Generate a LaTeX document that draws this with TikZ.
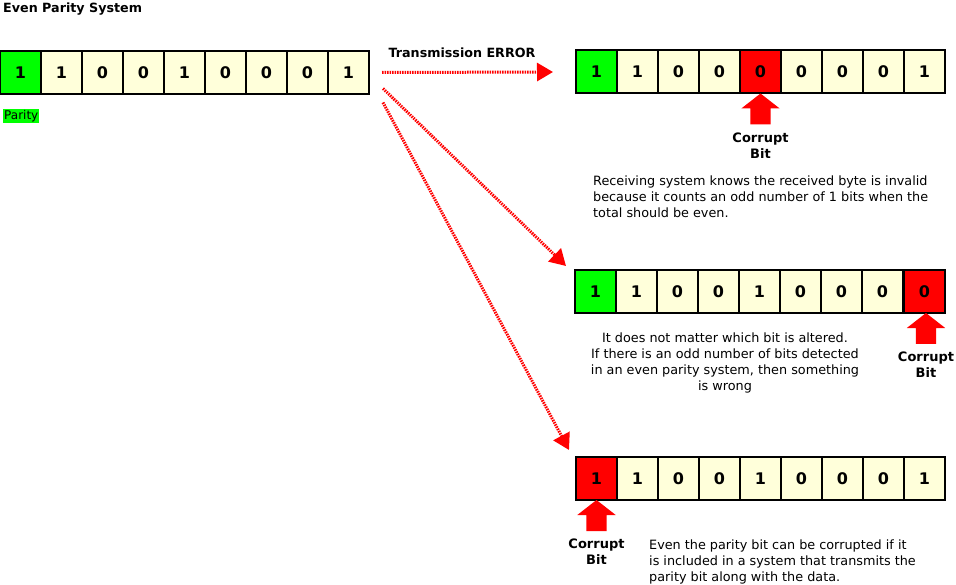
\documentclass[tikz,border=0pt]{standalone}
\usepackage{fontspec}
\setmainfont{DejaVu Sans}
\usetikzlibrary{arrows.meta, positioning, shapes.arrows}
\definecolor{bitcream}{HTML}{FFFFDA}
\definecolor{bitgreen}{HTML}{00FF00}
\definecolor{bitred}{HTML}{FF0000}
\tikzset{
  bit/.style={rectangle, draw=black, line width=2pt, fill=bitcream, minimum width=41pt,
    minimum height=43pt, inner sep=0pt, outer sep=0pt, font=\fontsize{16}{18}\selectfont\bfseries},
  parbit/.style={bit, fill=bitgreen},
  badbit/.style={bit, fill=bitred},
  heading/.style={font=\fontsize{12.7}{16}\selectfont\bfseries, inner sep=0pt},
  note/.style={font=\fontsize{12.8}{16}\selectfont, inner sep=0pt},
  corrupt/.style={font=\fontsize{13}{16}\selectfont\bfseries, align=center, inner sep=0pt},
  pointer/.style={single arrow, fill=bitred, draw=none, minimum height=31pt,
    single arrow head extend=9pt, single arrow head indent=0pt, single arrow tip angle=104,
    inner xsep=0pt, inner ysep=10pt, outer sep=0pt, rotate=90, anchor=tip},
  errarrow/.style={draw=bitred, line width=3pt, dash pattern=on 1.5pt off 1pt,
    -{Triangle[length=16pt, width=18pt]}}
}

\begin{document}
\begin{tikzpicture}[x=1pt, y=-1pt]
  \useasboundingbox (0,0) rectangle (956,585);

  \node[heading, anchor=west] (title) at (3,9) {Even Parity System};

  % byte as sent
  \foreach \b/\s [count=\i] in {1/parbit,1/bit,0/bit,0/bit,1/bit,0/bit,0/bit,0/bit,1/bit}
    \node[\s] (a\i) at (41*\i-20.5, 72.5) {\b};
  \node[note, font=\fontsize{12}{14}\selectfont, fill=bitgreen, inner sep=1pt, anchor=west] (parity) at (3,116) {Parity};

  % received bytes
  \foreach \b/\s [count=\i] in {1/parbit,1/bit,0/bit,0/bit,0/badbit,0/bit,0/bit,0/bit,1/bit}
    \node[\s] (b\i) at (555.5+41*\i, 72) {\b};
  \foreach \b/\s [count=\i] in {1/parbit,1/bit,0/bit,0/bit,1/bit,0/bit,0/bit,0/bit}
    \node[\s] (c\i) at (554.5+41*\i, 292) {\b};
  \node[badbit] (c9) at (924.5, 291.5) {0};
  \foreach \b/\s [count=\i] in {1/badbit,1/bit,0/bit,0/bit,1/bit,0/bit,0/bit,0/bit,1/bit}
    \node[\s] (d\i) at (555.5+41*\i, 478.5) {\b};

  % corrupt bit markers
  \node[pointer] (bptr) at (b5.south) {};
  \node[corrupt, below=8pt of bptr.tail] (blbl) {Corrupt\\Bit};
  \node[pointer] (cptr) at ([xshift=1.5pt]c9.south) {};
  \node[corrupt, below=8pt of cptr.tail] (clbl) {Corrupt\\Bit};
  \node[pointer] (dptr) at (d1.south) {};
  \node[corrupt, below=8pt of dptr.tail] (dlbl) {Corrupt\\Bit};

  % explanations
  \node[note, align=left, anchor=north west] (bnote) at (593,176)
    {Receiving system knows the received byte is invalid\\because it counts an odd number of 1 bits when the\\total should be even.};
  \node[note, align=center, anchor=north] (cnote) at (725,333)
    {It does not matter which bit is altered.\\If there is an odd number of bits detected\\in an even parity system, then something\\is wrong};
  \node[note, align=left, anchor=north west] (dnote) at (649,540)
    {Even the parity bit can be corrupted if it\\is included in a system that transmits the\\parity bit along with the data.};

  % transmission errors
  \node[heading] (err) at (462,52.5) {Transmission ERROR};
  \draw[errarrow] ([xshift=13pt]a9.east) -- ([xshift=-23pt]b1.west);
  \draw[errarrow] ([shift={(14,16)}]a9.east) -- ([shift={(-9,-4.5)}]c1.north west);
  \draw[errarrow] ([shift={(14,30)}]a9.east) -- ([shift={(-7,-7)}]d1.north west);
\end{tikzpicture}
\end{document}
